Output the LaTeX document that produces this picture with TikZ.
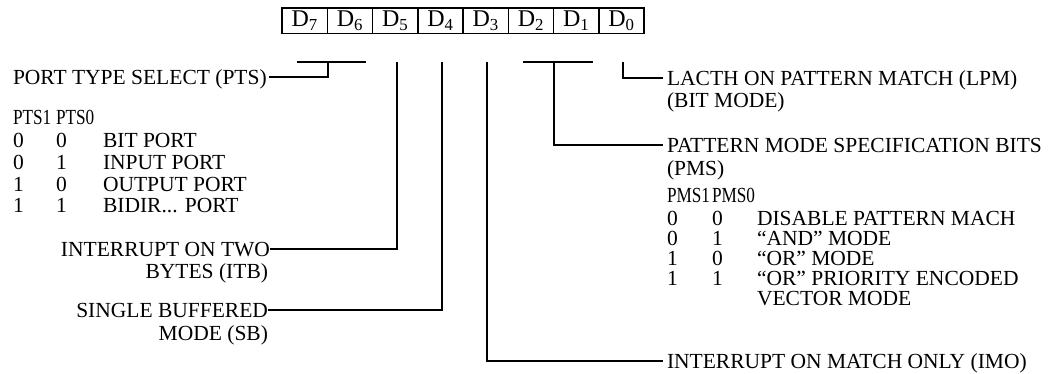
\documentclass[tikz,border=0pt]{standalone}
\usepackage{fontspec}
\usepackage{graphicx}
\setmainfont{Liberation Serif}
\newcommand{\nrw}[1]{\scalebox{0.8}[1]{#1}}
\begin{document}
\begin{tikzpicture}[x=1pt,y=-1pt,
  lbl/.style={inner sep=0pt, outer sep=0pt, text height=14.2pt, text depth=0pt, font=\fontsize{21.5}{25}\selectfont},
  cell/.style={draw, line width=1.5pt, minimum width=45.25pt, minimum height=25.5pt, inner sep=0pt, font=\fontsize{24}{28}\selectfont},
  wire/.style={line width=1.5pt}]
\useasboundingbox (0,0) rectangle (1055,374);
% register cells
\node[cell] (c7) at (304.625,20.75) {D\textsubscript{7}};
\node[cell] (c6) at (349.875,20.75) {D\textsubscript{6}};
\node[cell] (c5) at (395.125,20.75) {D\textsubscript{5}};
\node[cell] (c4) at (440.375,20.75) {D\textsubscript{4}};
\node[cell] (c3) at (485.625,20.75) {D\textsubscript{3}};
\node[cell] (c2) at (530.875,20.75) {D\textsubscript{2}};
\node[cell] (c1) at (576.125,20.75) {D\textsubscript{1}};
\node[cell] (c0) at (621.375,20.75) {D\textsubscript{0}};
% left labels
\node[lbl, anchor=west] (pts) at (13,77) {PORT TYPE SELECT (PTS)};
\node[lbl, anchor=west] (pts1h) at (13,117) {\nrw{PTS1}};
\node[lbl, anchor=west] (pts0h) at (56,117) {\nrw{PTS0}};
\node[lbl, anchor=west] (pa1) at (13,140) {0};
\node[lbl, anchor=west] (pa0) at (56,140) {0};
\node[lbl, anchor=west] (pad) at (103,140) {BIT PORT};
\node[lbl, anchor=west] (pb1) at (13,162) {0};
\node[lbl, anchor=west] (pb0) at (56,162) {1};
\node[lbl, anchor=west] (pbd) at (103,162) {INPUT PORT};
\node[lbl, anchor=west] (pc1) at (13,184) {1};
\node[lbl, anchor=west] (pc0) at (56,184) {0};
\node[lbl, anchor=west] (pcd) at (103,184) {OUTPUT PORT};
\node[lbl, anchor=west] (pd1) at (13,205) {1};
\node[lbl, anchor=west] (pd0) at (56,205) {1};
\node[lbl, anchor=west] (pdd) at (103,205) {BIDIR... PORT};
\node[lbl, anchor=east] (itb) at (270,249) {INTERRUPT ON TWO};
\node[lbl, anchor=east] (itb2) at (268,271) {BYTES (ITB)};
\node[lbl, anchor=east] (sb) at (268,310) {SINGLE BUFFERED};
\node[lbl, anchor=east] (sb2) at (268,333) {MODE (SB)};
% right labels
\node[lbl, anchor=west] (lpm) at (667,78) {LACTH ON PATTERN MATCH (LPM)};
\node[lbl, anchor=west] (lpm2) at (667,100) {(BIT MODE)};
\node[lbl, anchor=west] (pms) at (667,145) {PATTERN MODE SPECIFICATION BITS};
\node[lbl, anchor=west] (pms2) at (667,168) {(PMS)};
\node[lbl, anchor=west] (pms1h) at (667,195) {\nrw{PMS1}};
\node[lbl, anchor=west] (pms0h) at (712,195) {\nrw{PMS0}};
\node[lbl, anchor=west] (ma1) at (667,218) {0};
\node[lbl, anchor=west] (ma0) at (712,218) {0};
\node[lbl, anchor=west] (mad) at (757,218) {DISABLE PATTERN MACH};
\node[lbl, anchor=west] (mb1) at (667,238) {0};
\node[lbl, anchor=west] (mb0) at (712,238) {1};
\node[lbl, anchor=west] (mbd) at (757,238) {“AND” MODE};
\node[lbl, anchor=west] (mc1) at (667,258) {1};
\node[lbl, anchor=west] (mc0) at (712,258) {0};
\node[lbl, anchor=west] (mcd) at (757,258) {“OR” MODE};
\node[lbl, anchor=west] (md1) at (667,278) {1};
\node[lbl, anchor=west] (md0) at (712,278) {1};
\node[lbl, anchor=west] (mdd) at (757,278) {“OR” PRIORITY ENCODED};
\node[lbl, anchor=west] (mdd2) at (757,298) {VECTOR MODE};
\node[lbl, anchor=west] (imo) at (667,361) {INTERRUPT ON MATCH ONLY (IMO)};
% connector points
\coordinate (ptsL) at (297,62);
\coordinate (ptsR) at (366,62);
\coordinate (ptsT) at (328,62);
\coordinate (t5) at (397,62);
\coordinate (t4) at (442,62);
\coordinate (t3) at (487,62);
\coordinate (pmsL) at (523,62);
\coordinate (pmsR) at (593,62);
\coordinate (pmsT) at (554,62);
\coordinate (t0) at (623,62);
% connectors
\draw[wire] (ptsL) -- (ptsR);
\draw[wire] (ptsT) |- ([xshift=2pt]pts.east);
\draw[wire] (t5) |- (itb.east);
\draw[wire] (t4) |- (sb.east);
\draw[wire] (t3) |- ([xshift=-4pt]imo.west);
\draw[wire] (pmsL) -- (pmsR);
\draw[wire] (pmsT) |- ([xshift=-4pt]pms.west);
\draw[wire] (t0) |- ([xshift=-4pt]lpm.west);
\end{tikzpicture}
\end{document}
